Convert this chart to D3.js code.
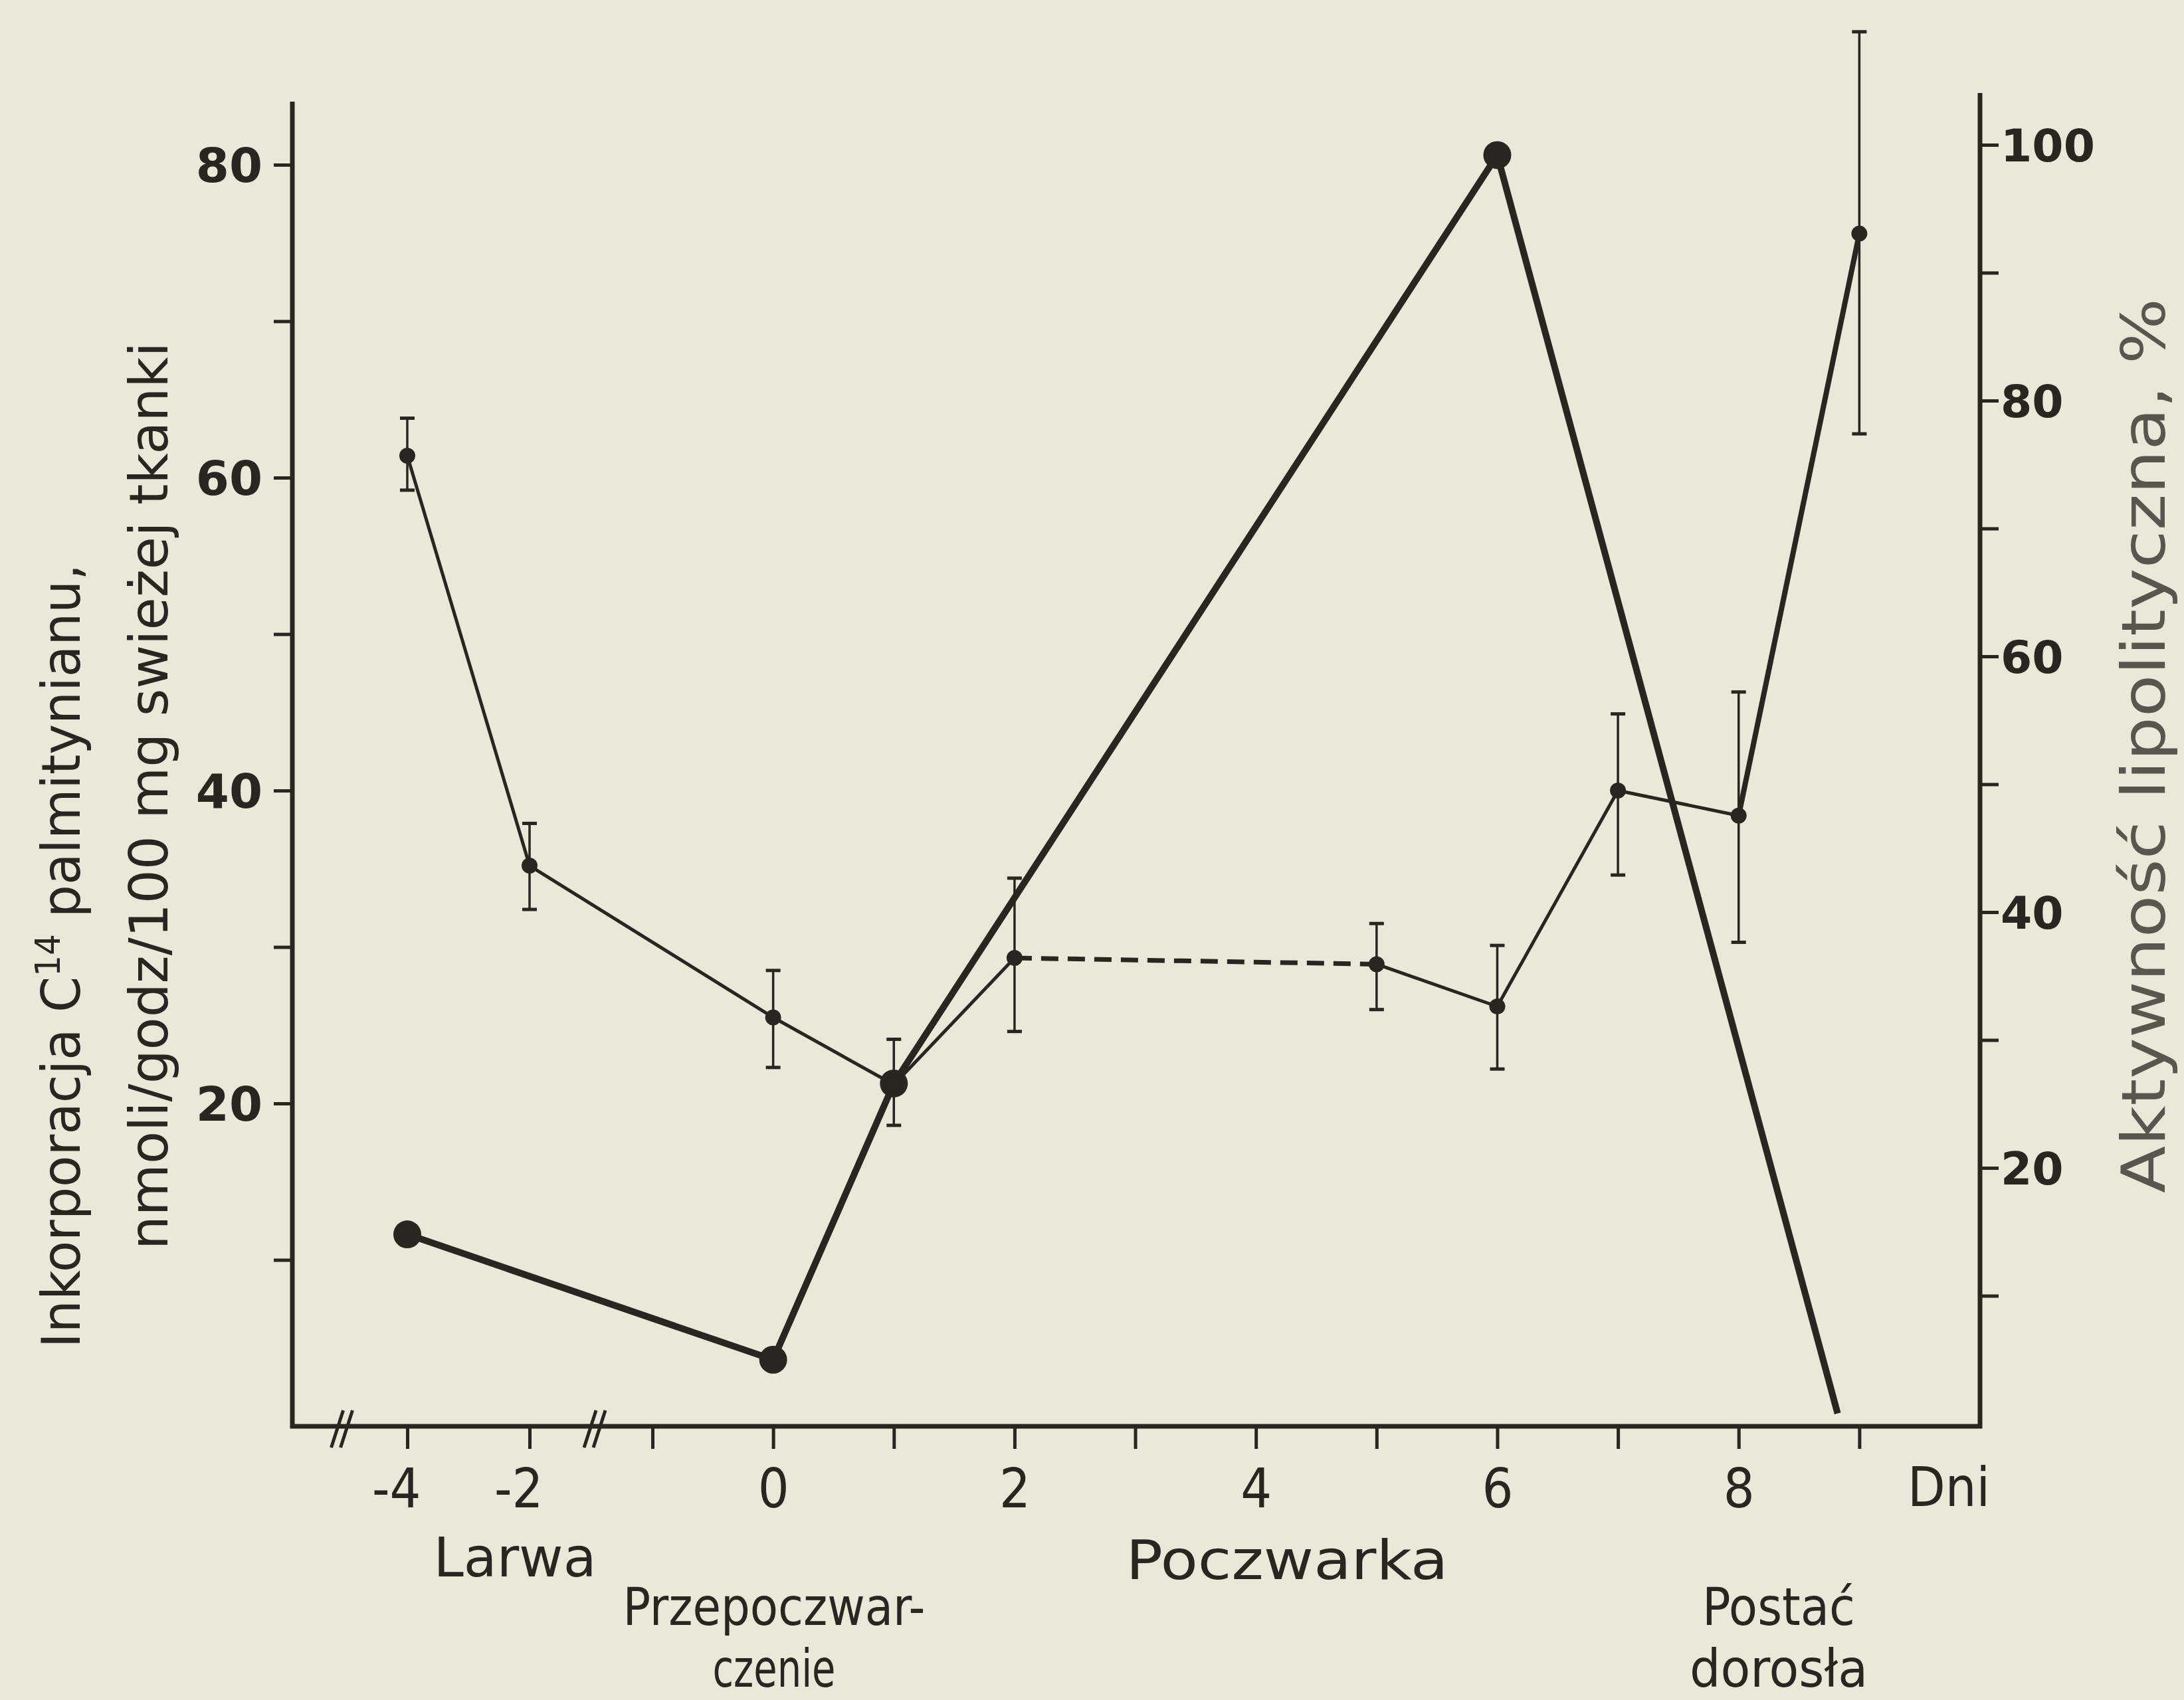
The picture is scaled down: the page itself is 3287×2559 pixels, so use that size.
<!DOCTYPE html>
<html><head><meta charset="utf-8">
<script src="https://cdn.jsdelivr.net/npm/d3@7"></script>
<style>
html,body{margin:0;padding:0;background:#ebe7d9;}
svg{display:block}
</style></head><body>
<script>
// ---------- DATA ----------
const days           = [-4, -2, 0, 1, 2, 5, 6, 7, 8, 9];
const incorporation  = [61.4, 35.2, 25.5, 21.2, 29.3, 28.9, 26.2, 40.0, 38.4, 75.6];
const incErrLow      = [59.2, 32.4, 22.3, 18.6, 24.6, 26.0, 22.2, 34.6, 30.3, 62.8];
const incErrHigh     = [63.8, 37.9, 28.5, 24.1, 34.4, 31.5, 30.1, 44.9, 46.3, 88.5];

const lipaseDays     = [-4, 0, 1, 6, 8.82];
const lipaseActivity = [14.8, 5.0, 26.6, 99.2, 0.8];
const lipaseMarkerDays = [-4, 0, 1, 6];

const xTicks      = [-4, -2, -1, 0, 1, 2, 3, 4, 5, 6, 7, 8, 9];
const xTickLabels = ["-4", "-2", "", "0", "", "2", "", "4", "", "6", "", "8", ""];
const axisBreaks  = [-5.07, -1.47];
const leftTicks   = [10, 20, 30, 40, 50, 60, 70, 80];
const leftLabels  = ["", "20", "", "40", "", "60", "", "80"];
const rightTicks  = [10, 20, 30, 40, 50, 60, 70, 80, 90, 100];
const rightLabels = ["", "20", "", "40", "", "60", "", "80", "", "100"];

const unitLabel   = "Dni";
const stageLabels = ["Larwa", "Przepoczwar-", "czenie", "Poczwarka", "Postać", "dorosła"];
const leftTitle   = ["Inkorporacja C", "14", " palmitynianu,", "nmoli/godz/100 mg swieżej tkanki"];
const rightTitle  = "Aktywność lipolityczna, %";

// ---------- LAYOUT ----------
const W = 3287, H = 2559;
const ink = "#2a2521";
const narrow = "'Liberation Sans Narrow','DejaVu Sans Condensed','Roboto Condensed',sans-serif";
const wide = "'DejaVu Sans',Verdana,sans-serif";
const axisY = 2147, leftX = 440, rightX = 2980, leftTop = 153, rightTop = 140;

const svg = d3.select("body").append("svg").attr("width", W).attr("height", H);
svg.append("rect").attr("width", W).attr("height", H).attr("fill", "#ebe7d9");

const x  = d3.scaleLinear().domain([-5.88, -2, -1, 10.0]).range([leftX, 797, 982, rightX]);
const yL = d3.scaleLinear().domain([0, 80]).range([2132, 248]);
const yR = d3.scaleLinear().domain([0, 100]).range([2143, 218]);

// ---------- AXES ----------
const gL = svg.append("g").attr("transform", `translate(${leftX},0)`)
  .call(d3.axisLeft(yL).tickValues(leftTicks).tickSize(28).tickPadding(17)
        .tickFormat((d, i) => leftLabels[i]));
const gR = svg.append("g").attr("transform", `translate(${rightX},0)`)
  .call(d3.axisRight(yR).tickValues(rightTicks).tickSize(28).tickPadding(3)
        .tickFormat((d, i) => rightLabels[i]));
const gB = svg.append("g").attr("transform", `translate(0,${axisY})`)
  .call(d3.axisBottom(x).tickValues(xTicks).tickSize(34).tickPadding(30)
        .tickFormat((d, i) => xTickLabels[i]));

[gL, gR, gB].forEach(g => {
  g.select(".domain").remove();
  g.selectAll(".tick line").attr("stroke", ink).attr("stroke-width", 5);
});
gL.selectAll(".tick text")
  .attr("fill", ink).attr("font-family", wide).attr("font-weight", "bold")
  .attr("font-size", 72).attr("dy", "0.36em");
gR.selectAll(".tick text")
  .attr("fill", ink).attr("font-family", wide).attr("font-weight", "bold")
  .attr("font-size", 68).attr("dy", "0.36em");
gB.selectAll(".tick text").attr("fill", ink).attr("font-family", narrow)
  .attr("font-size", 82)
  .each(function (d) {
    if (d < 0) d3.select(this).attr("text-anchor", "end").attr("x", 20);
  });

// axis lines
svg.append("path").attr("d", d3.line()([[leftX, leftTop], [leftX, axisY], [rightX, axisY], [rightX, rightTop]]))
  .attr("fill", "none").attr("stroke", ink).attr("stroke-width", 7).attr("stroke-linejoin", "miter");

// axis break marks
axisBreaks.forEach(b => {
  const bx = x(b);
  [-7, 7].forEach(off => {
    svg.append("line")
      .attr("x1", bx + off - 9).attr("y1", axisY + 32)
      .attr("x2", bx + off + 9).attr("y2", axisY - 24)
      .attr("stroke", ink).attr("stroke-width", 5);
  });
});

// "Dni"
svg.append("text").attr("x", 2933).attr("y", 2267).attr("text-anchor", "middle")
  .attr("font-family", narrow).attr("font-size", 82).attr("fill", ink).text(unitLabel);

// ---------- AXIS TITLES ----------
const t1 = svg.append("text").attr("transform", "translate(120,2029) rotate(-90)")
  .attr("font-family", narrow).attr("font-size", 80).attr("fill", ink)
  .attr("textLength", 1180).attr("lengthAdjust", "spacingAndGlyphs");
t1.append("tspan").text(leftTitle[0]);
t1.append("tspan").attr("font-size", 52).attr("dy", -30).text(leftTitle[1]);
t1.append("tspan").attr("dy", 30).text(leftTitle[2]);

svg.append("text").attr("transform", "translate(252,1881) rotate(-90)")
  .attr("font-family", narrow).attr("font-size", 80).attr("fill", ink)
  .attr("textLength", 1366).attr("lengthAdjust", "spacingAndGlyphs").text(leftTitle[3]);
svg.append("text").attr("transform", "translate(3258,1796) rotate(-90)")
  .attr("font-family", narrow).attr("font-size", 90).attr("fill", "#5a564f")
  .attr("textLength", 1347).attr("lengthAdjust", "spacingAndGlyphs").text(rightTitle);

// ---------- STAGE LABELS ----------
const stagePos = [
  {x: 775,  y: 2373, len: 245, fs: 82},
  {x: 1165, y: 2446, len: 455, fs: 78},
  {x: 1165, y: 2539, len: 185, fs: 78},
  {x: 1937, y: 2377, len: 485, fs: 82},
  {x: 2677, y: 2446, len: 230, fs: 78},
  {x: 2677, y: 2539, len: 268, fs: 78}
];
stageLabels.forEach((t, i) => {
  const p = stagePos[i];
  svg.append("text").attr("x", p.x - p.len / 2).attr("y", p.y)
    .attr("font-family", narrow).attr("font-size", p.fs).attr("fill", ink)
    .attr("textLength", p.len).attr("lengthAdjust", "spacingAndGlyphs").text(t);
});

// ---------- LIPASE ACTIVITY (thick, right axis) ----------
const lipPts = lipaseDays.map((d, i) => [x(d), yR(lipaseActivity[i])]);
svg.append("path").attr("d", d3.line()(lipPts)).attr("fill", "none")
  .attr("stroke", ink).attr("stroke-width", 10).attr("stroke-linejoin", "round");
svg.selectAll(".lipDot").data(lipaseMarkerDays).enter().append("circle")
  .attr("cx", d => x(d)).attr("cy", d => yR(lipaseActivity[lipaseDays.indexOf(d)]))
  .attr("r", 21).attr("fill", ink);

// ---------- INCORPORATION (thin, left axis) ----------
const incPts = days.map((d, i) => [x(d), yL(incorporation[i])]);
const line = d3.line();
svg.append("path").attr("d", line(incPts.slice(0, 5))).attr("fill", "none")
  .attr("stroke", ink).attr("stroke-width", 5).attr("stroke-linejoin", "round");
svg.append("path").attr("d", line(incPts.slice(4, 6))).attr("fill", "none")
  .attr("stroke", ink).attr("stroke-width", 7).attr("stroke-dasharray", "26 14");
svg.append("path").attr("d", line(incPts.slice(5, 9))).attr("fill", "none")
  .attr("stroke", ink).attr("stroke-width", 5).attr("stroke-linejoin", "round");
svg.append("path").attr("d", line(incPts.slice(8, 10))).attr("fill", "none")
  .attr("stroke", ink).attr("stroke-width", 8);

// error bars
const eb = svg.append("g").attr("stroke", ink);
days.forEach((d, i) => {
  const cx = x(d);
  eb.append("line").attr("x1", cx).attr("x2", cx)
    .attr("y1", yL(incErrLow[i])).attr("y2", yL(incErrHigh[i])).attr("stroke-width", 3.5);
  [incErrLow[i], incErrHigh[i]].forEach(v => {
    eb.append("line").attr("x1", cx - 11).attr("x2", cx + 11)
      .attr("y1", yL(v)).attr("y2", yL(v)).attr("stroke-width", 5);
  });
});
svg.selectAll(".incDot").data(days).enter().append("circle")
  .attr("cx", d => x(d)).attr("cy", (d, i) => yL(incorporation[i]))
  .attr("r", 12).attr("fill", ink);
</script>
</body></html>
